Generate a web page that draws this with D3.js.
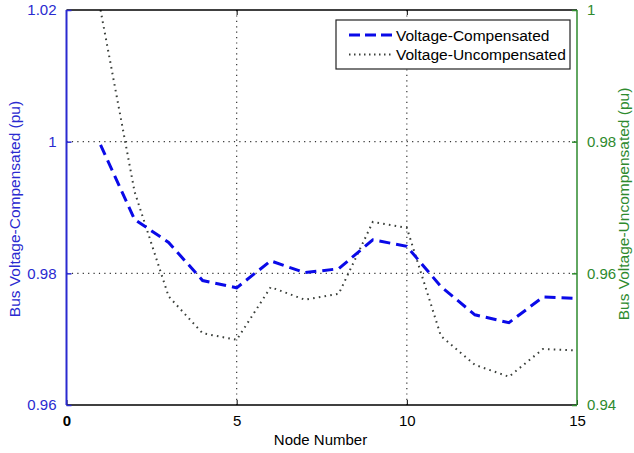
<!DOCTYPE html>
<html>
<head>
<meta charset="utf-8">
<script src="https://cdn.jsdelivr.net/npm/d3@7"></script>
<style>
  html, body { margin: 0; padding: 0; background: #fff; }
  svg { display: block; }
  text { font-family: "Liberation Sans", Arial, sans-serif; }
</style>
</head>
<body>
<svg id="chart" width="634" height="453"></svg>
<script>
// ---- data ----
const nodes = [1,2,3,4,5,6,7,8,9,10,11,12,13,14,15];
const compensated = [0.9995,0.9882,0.9847,0.9789,0.9778,0.9819,0.9801,0.9807,0.9851,0.9841,0.9780,0.9737,0.9725,0.9764,0.9762];
const uncompensated = [1.0000,0.9724,0.9565,0.9509,0.9499,0.9579,0.9560,0.9569,0.9678,0.9669,0.9505,0.9461,0.9443,0.9485,0.9483];
const xTicks = [0,5,10,15];
const leftTicks = [0.96,0.98,1,1.02];
const rightTicks = [0.94,0.96,0.98,1];
const seriesNames = ["Voltage-Compensated","Voltage-Uncompensated"];

// ---- layout ----
const W = 634, H = 453;
const L = 66.5, R = 577, T = 10, B = 405;
const blue = "#2a2ad0", green = "#2e8a2e";
const svg = d3.select("#chart");

const x = d3.scaleLinear().domain([0,15]).range([L,R]);
const yL = d3.scaleLinear().domain([0.96,1.02]).range([B,T]);
const yR = d3.scaleLinear().domain([0.94,1.0]).range([B,T]);

svg.append("defs").append("clipPath").attr("id","clip")
  .append("rect").attr("x",L).attr("y",T).attr("width",R-L).attr("height",B-T);

// grid
const grid = svg.append("g").attr("stroke","#333").attr("stroke-width",1.2).attr("stroke-dasharray","1.2,4.2");
[5,10].forEach(v => grid.append("line").attr("x1",x(v)).attr("x2",x(v)).attr("y1",T).attr("y2",B));
[0.98,1].forEach(v => grid.append("line").attr("x1",L).attr("x2",R).attr("y1",yL(v)).attr("y2",yL(v)));

// lines
const g = svg.append("g").attr("clip-path","url(#clip)");
const lineL = d3.line().x((d,i)=>x(nodes[i])).y(d=>yL(d));
const lineR = d3.line().x((d,i)=>x(nodes[i])).y(d=>yR(d));
g.append("path").datum(uncompensated).attr("d",lineR)
  .attr("fill","none").attr("stroke","#3a3f3a").attr("stroke-width",2)
  .attr("stroke-dasharray","1.6,4.2");
g.append("path").datum(compensated).attr("d",lineL)
  .attr("fill","none").attr("stroke","#0a0ae8").attr("stroke-width",3)
  .attr("stroke-dasharray","11,6");

// frame top/bottom
svg.append("line").attr("x1",L).attr("x2",R).attr("y1",T).attr("y2",T).attr("stroke","#000").attr("stroke-width",1.5);
svg.append("line").attr("x1",L).attr("x2",R).attr("y1",B).attr("y2",B).attr("stroke","#000").attr("stroke-width",1.5);

// x ticks (inward) top and bottom
const xAxisB = d3.axisBottom(x).tickValues(xTicks).tickSize(-5).tickPadding(10).tickFormat(d3.format("d"));
const gxb = svg.append("g").attr("transform",`translate(0,${B})`).call(xAxisB);
gxb.select(".domain").remove();
gxb.selectAll("line").attr("stroke","#000");
gxb.selectAll("text").attr("fill","#000").style("font-size","15px");
gxb.selectAll("text").filter(d=>d===0).style("font-weight","bold");
const xAxisT = d3.axisTop(x).tickValues([5,10]).tickSize(-5).tickFormat("");
const gxt = svg.append("g").attr("transform",`translate(0,${T})`).call(xAxisT);
gxt.select(".domain").remove();
gxt.selectAll("line").attr("stroke","#000");

// left axis
const axL = d3.axisLeft(yL).tickValues(leftTicks).tickSize(-5).tickPadding(10)
  .tickFormat(d => d3.format("")(+d.toFixed(2)));
const gl = svg.append("g").attr("transform",`translate(${L},0)`).call(axL);
gl.select(".domain").attr("stroke",blue).attr("stroke-width",2).attr("d",`M0,${T}V${B}`);
gl.selectAll(".tick line").attr("stroke",blue).attr("stroke-width",1.5);
gl.selectAll("text").attr("fill",blue).style("font-size","15px");

// right axis
const axR = d3.axisRight(yR).tickValues(rightTicks).tickSize(-5).tickPadding(10)
  .tickFormat(d => d3.format("")(+d.toFixed(2)));
const gr = svg.append("g").attr("transform",`translate(${R},0)`).call(axR);
gr.select(".domain").attr("stroke",green).attr("stroke-width",1.5).attr("d",`M0,${T}V${B}`);
gr.selectAll(".tick line").attr("stroke",green).attr("stroke-width",1.5);
gr.selectAll("text").attr("fill",green).style("font-size","15px");

// axis labels
svg.append("text").attr("x",320.5).attr("y",445).attr("text-anchor","middle")
  .attr("fill","#000").style("font-size","15px").text("Node Number");
svg.append("text").attr("transform",`translate(19.5,209) rotate(-90)`).attr("text-anchor","middle")
  .attr("fill",blue).style("font-size","15.5px").text("Bus Voltage-Compensated (pu)");
svg.append("text").attr("transform",`translate(629,204) rotate(-90)`).attr("text-anchor","middle")
  .attr("fill",green).style("font-size","15.5px").text("Bus Voltage-Uncompensated (pu)");

// legend
const lg = svg.append("g");
lg.append("rect").attr("x",336).attr("y",20).attr("width",234).attr("height",49)
  .attr("fill","#fff").attr("stroke","#222").attr("stroke-width",1.2);
const rows = [
  {name: seriesNames[0], stroke:"#0a0ae8", w:3, dash:"11,5"},
  {name: seriesNames[1], stroke:"#3a3f3a", w:2, dash:"1.5,3.5"}
];
rows.forEach((r,i) => {
  const yy = 35 + i*19.5;
  lg.append("line").attr("x1",349).attr("x2",394).attr("y1",yy).attr("y2",yy)
    .attr("stroke",r.stroke).attr("stroke-width",r.w).attr("stroke-dasharray",r.dash);
  lg.append("text").attr("x",396).attr("y",yy+5.5).attr("fill","#000")
    .style("font-size","15.5px").text(r.name);
});
</script>
</body>
</html>
